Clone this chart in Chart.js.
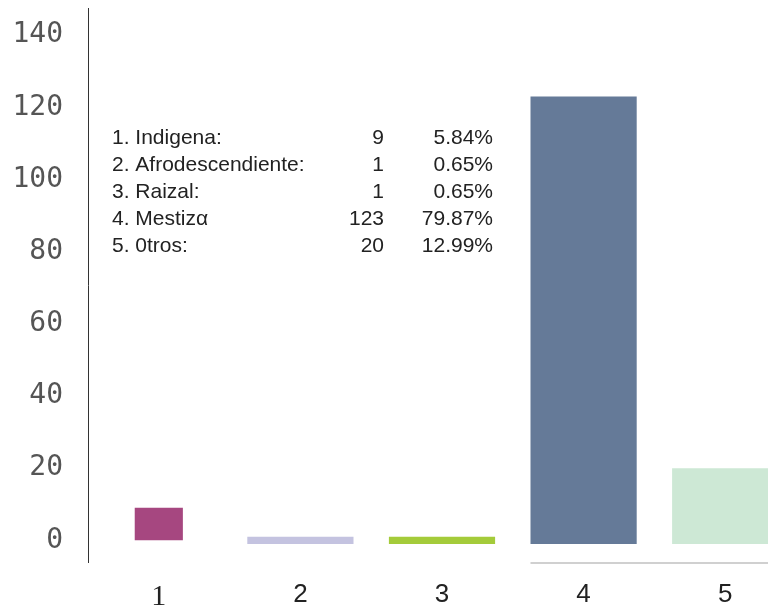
<!DOCTYPE html>
<html>
<head>
<meta charset="utf-8">
<script src="https://cdn.jsdelivr.net/npm/chart.js@4/dist/chart.umd.min.js"></script>
<style>
  html, body { margin: 0; padding: 0; background: #fff; overflow: hidden; }
  #wrap { position: relative; width: 796px; height: 614px; }
</style>
</head>
<body>
<div id="wrap"><canvas id="c" width="796" height="614"></canvas></div>
<script>
// Población por grupo étnico
const categories = ['1', '2', '3', '4', '5'];
const groupNames = ['1. Indigena:', '2. Afrodescendiente:', '3. Raizal:', '4. Mestizα', '5. 0tros:'];
const counts = [9, 1, 1, 123, 20];
const barColors = ['#a64780', '#c4c3e0', '#a4cb3a', '#657a98', '#cde8d5'];
const yTicks = [0, 20, 40, 60, 80, 100, 120, 140];

const total = counts.reduce((a, b) => a + b, 0);
const percents = counts.map(v => (v / total * 100).toFixed(2) + '%');

// Leyenda con conteos y porcentajes
const summaryTable = {
  id: 'summaryTable',
  afterDraw(chart) {
    const ctx = chart.ctx;
    ctx.save();
    ctx.font = '21px "Liberation Sans", Arial, sans-serif';
    ctx.fillStyle = '#222';
    ctx.textBaseline = 'middle';
    const y0 = 138, dy = 27;
    groupNames.forEach((name, i) => {
      const y = y0 + i * dy;
      ctx.textAlign = 'left';
      ctx.fillText(name, 112, y);
      ctx.textAlign = 'right';
      ctx.fillText(String(counts[i]), 384, y);
      ctx.fillText(percents[i], 493, y);
    });
    ctx.restore();
  }
};

// Línea base gris bajo las dos últimas columnas
const baseLine = {
  id: 'baseLine',
  afterDatasetsDraw(chart) {
    const x = chart.scales.x;
    const y = chart.scales.y;
    const half = (x.getPixelForValue(1) - x.getPixelForValue(0)) / 2 * 0.75;
    const left = x.getPixelForValue(3) - half;
    const py = y.bottom + 1;
    const ctx = chart.ctx;
    ctx.save();
    ctx.strokeStyle = '#d0d0d0';
    ctx.lineWidth = 2;
    ctx.beginPath();
    ctx.moveTo(left, py);
    ctx.lineTo(chart.width, py);
    ctx.stroke();
    ctx.restore();
  }
};

new Chart(document.getElementById('c'), {
  type: 'bar',
  data: {
    labels: categories,
    datasets: [
      {
        data: counts.map((v, i) => i === 0 ? v : null),
        backgroundColor: barColors,
        barPercentage: 0.34,
        categoryPercentage: 1,
        grouped: false
      },
      {
        data: counts.map((v, i) => i === 0 ? null : v),
        backgroundColor: barColors,
        barPercentage: 0.75,
        categoryPercentage: 1,
        grouped: false,
        base: -1
      }
    ]
  },
  options: {
    responsive: false,
    animation: false,
    events: [],
    layout: { padding: { top: 8, right: 0, bottom: 0, left: 0 } },
    plugins: { legend: { display: false }, tooltip: { enabled: false } },
    scales: {
      x: {
        grid: { display: false, drawTicks: false },
        border: { display: false },
        afterFit(scale) {
          scale.height = 52;
          scale.paddingLeft = 0;
          scale.paddingRight = 0;
        },
        ticks: {
          padding: 20,
          color: '#222',
          font: (ctx) => ctx.index === 0
            ? { family: '"Liberation Serif", serif', size: 30, lineHeight: 1 }
            : { family: '"Liberation Sans", Arial, sans-serif', size: 26, lineHeight: 1 }
        }
      },
      y: {
        min: -6,
        max: 147.5,
        grid: { display: false, drawTicks: false },
        border: { display: true, color: '#333', width: 1 },
        afterBuildTicks(scale) { scale.ticks = yTicks.map(v => ({ value: v })); },
        afterFit(scale) {
          scale.width = 88;
          scale.paddingTop = 0;
          scale.paddingBottom = 0;
        },
        ticks: {
          padding: 25,
          color: '#555',
          font: { family: '"DejaVu Sans Mono", monospace', size: 28 }
        }
      }
    }
  },
  plugins: [summaryTable, baseLine]
});
</script>
</body>
</html>
